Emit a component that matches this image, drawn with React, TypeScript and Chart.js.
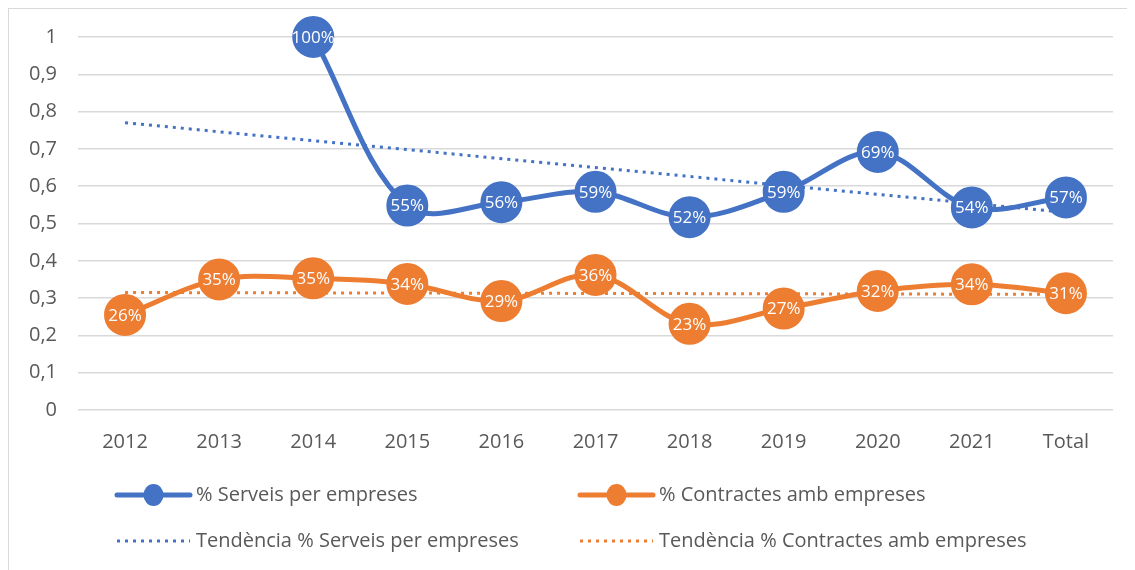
import React, { useEffect, useRef } from "react";
import { Chart, registerables } from "chart.js";

Chart.register(...registerables);

const categories = ["2012", "2013", "2014", "2015", "2016", "2017", "2018", "2019", "2020", "2021", "Total"];
const serveis = [null, null, 1.0, 0.548, 0.557, 0.585, 0.517, 0.585, 0.692, 0.543, 0.57];
const contractes = [0.255, 0.35, 0.353, 0.338, 0.292, 0.362, 0.231, 0.272, 0.319, 0.337, 0.313];
const trendServeis = [0.77, null, null, null, null, null, null, null, null, null, 0.53];
const trendContractes = [0.315, null, null, null, null, null, null, null, null, null, 0.31];
const yTickLabels = ["0", "0,1", "0,2", "0,3", "0,4", "0,5", "0,6", "0,7", "0,8", "0,9", "1"];
const seriesNames = [
  "% Serveis per empreses",
  "% Contractes amb empreses",
  "Tendència % Serveis per empreses",
  "Tendència % Contractes amb empreses",
];

const BLUE = "#4472C4";
const ORANGE = "#ED7D31";
const TEXT = "#595959";
const FONT = "'Open Sans', sans-serif";

const labelPlugin = {
  id: "pointLabels",
  afterDatasetsDraw(chart: any) {
    const ctx = chart.ctx;
    ctx.save();
    ctx.font = `17px ${FONT}`;
    ctx.fillStyle = "#ffffff";
    ctx.textAlign = "center";
    ctx.textBaseline = "middle";
    [0, 1].forEach((di) => {
      const meta = chart.getDatasetMeta(di);
      const data = chart.data.datasets[di].data;
      meta.data.forEach((el: any, i: number) => {
        const v = data[i];
        if (v === null || v === undefined) return;
        ctx.fillText(Math.round(v * 100) + "%", el.x, el.y + 1);
      });
    });
    ctx.restore();
  },
};

const legendPlugin = {
  id: "gridLegend",
  afterDraw(chart: any) {
    const ctx = chart.ctx;
    const cols = [108, 571];
    const rows = [486, 532];
    ctx.save();
    chart.data.datasets.forEach((ds: any, i: number) => {
      const x = cols[i % 2];
      const y = rows[Math.floor(i / 2)];
      const w = 73;
      ctx.strokeStyle = ds.borderColor;
      ctx.lineWidth = ds.borderWidth;
      if (ds.borderDash) {
        ctx.setLineDash(ds.borderDash);
        ctx.lineCap = "butt";
      } else {
        ctx.setLineDash([]);
        ctx.lineCap = "round";
      }
      ctx.beginPath();
      ctx.moveTo(x, y);
      ctx.lineTo(x + w, y);
      ctx.stroke();
      ctx.setLineDash([]);
      if (i < 2) {
        ctx.fillStyle = ds.borderColor;
        ctx.beginPath();
        ctx.ellipse(x + w / 2, y, 10, 11, 0, 0, Math.PI * 2);
        ctx.fill();
      }
      ctx.fillStyle = TEXT;
      ctx.font = `20px ${FONT}`;
      ctx.textAlign = "left";
      ctx.textBaseline = "middle";
      ctx.fillText(seriesNames[i], x + w + 6, y);
    });
    ctx.restore();
  },
};

export default function App() {
  const ref = useRef<HTMLCanvasElement>(null);
  useEffect(() => {
    document.documentElement.style.overflow = "hidden";
    const chart = new Chart(ref.current as HTMLCanvasElement, {
      type: "line",
      data: {
        labels: categories,
        datasets: [
          {
            label: seriesNames[0],
            data: serveis,
            borderColor: BLUE,
            backgroundColor: BLUE,
            borderWidth: 5,
            pointRadius: 20,
            pointBorderWidth: 2,
            pointBackgroundColor: BLUE,
            pointBorderColor: BLUE,
            tension: 0.35,
            clip: false,
          },
          {
            label: seriesNames[1],
            data: contractes,
            borderColor: ORANGE,
            backgroundColor: ORANGE,
            borderWidth: 5,
            pointRadius: 20,
            pointBorderWidth: 2,
            pointBackgroundColor: ORANGE,
            pointBorderColor: ORANGE,
            tension: 0.35,
            clip: false,
          },
          {
            label: seriesNames[2],
            data: trendServeis,
            borderColor: BLUE,
            borderWidth: 3,
            borderDash: [3, 5],
            pointRadius: 0,
            spanGaps: true,
            tension: 0,
          },
          {
            label: seriesNames[3],
            data: trendContractes,
            borderColor: ORANGE,
            borderWidth: 3,
            borderDash: [3, 5],
            pointRadius: 0,
            spanGaps: true,
            tension: 0,
          },
        ] as any,
      },
      options: {
        responsive: false,
        animation: false,
        layout: { padding: { left: 0, right: 21, top: 28, bottom: 120 } },
        plugins: {
          legend: { display: false },
          tooltip: { enabled: false },
        },
        scales: {
          x: {
            offset: true,
            grid: { display: false, drawTicks: false },
            border: { display: false },
            ticks: { color: TEXT, font: { family: FONT, size: 20 }, padding: 20, maxRotation: 0 },
            afterFit: (s: any) => {
              s.height = 40;
            },
          },
          y: {
            min: 0,
            max: 1,
            grid: { color: "#d9d9d9", lineWidth: 1.5, drawTicks: false },
            border: { display: false },
            ticks: {
              stepSize: 0.1,
              color: TEXT,
              font: { family: FONT, size: 20 },
              padding: 21,
              callback: (_v: any, i: number) => yTickLabels[i],
            },
            afterFit: (s: any) => {
              s.width = 69;
              s.paddingTop = 0;
              s.paddingBottom = 0;
            },
          },
        },
      },
      plugins: [labelPlugin, legendPlugin],
    });
    return () => chart.destroy();
  }, []);
  return (
    <div
      style={{
        width: 1126,
        height: 561,
        borderLeft: "1px solid #d9d9d9",
        borderTop: "1px solid #d9d9d9",
      }}
    >
      <canvas ref={ref} width={1126} height={561} style={{ display: "block" }} />
    </div>
  );
}
